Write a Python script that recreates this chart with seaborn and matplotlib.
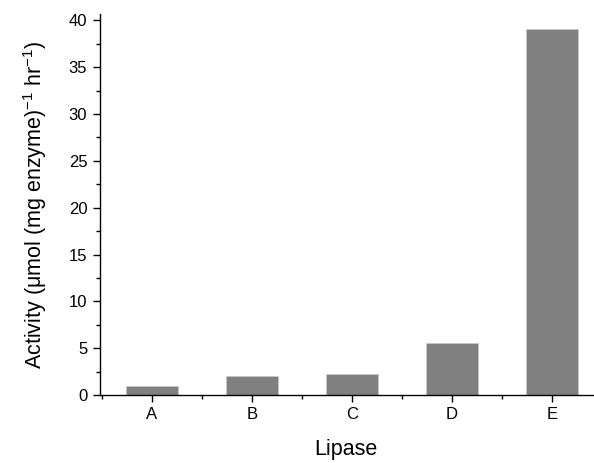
import pandas as pd
import matplotlib.pyplot as plt
import seaborn as sns
from matplotlib.ticker import MultipleLocator, FixedLocator

lipase = ['A', 'B', 'C', 'D', 'E']
activity = [0.96, 1.99, 2.23, 5.55, 39.1]

df = pd.DataFrame({'Lipase': lipase, 'Activity': activity})

sns.set_style('ticks')
plt.rcParams['font.family'] = ['Liberation Sans', 'DejaVu Sans']
plt.rcParams['mathtext.fontset'] = 'custom'
plt.rcParams['mathtext.rm'] = 'Liberation Sans'
plt.rcParams['mathtext.default'] = 'regular'
plt.rcParams['text.color'] = 'black'
plt.rcParams['axes.labelcolor'] = 'black'
plt.rcParams['xtick.color'] = 'black'
plt.rcParams['ytick.color'] = 'black'

fig = plt.figure(figsize=(5.94, 4.63), dpi=100)
ax = fig.add_axes([0.168, 0.147, 0.83, 0.823])

sns.barplot(data=df, x='Lipase', y='Activity', color='#808080', saturation=1,
            width=0.52, edgecolor='#c8c8c8', linewidth=0.4, ax=ax)

ax.set_xlim(-0.52, 4.41)
ax.set_ylim(0, 40.7)
ax.yaxis.set_major_locator(MultipleLocator(5))
ax.yaxis.set_minor_locator(MultipleLocator(2.5))
ax.xaxis.set_minor_locator(FixedLocator([-0.5, 0.5, 1.5, 2.5, 3.5]))
ax.tick_params(which='major', length=5, width=1, labelsize=12, pad=4)
ax.tick_params(which='minor', length=3, width=1)
sns.despine(ax=ax)
for s in ['left', 'bottom']:
    ax.spines[s].set_linewidth(1)
    ax.spines[s].set_color('black')

ax.set_xlabel('Lipase', fontsize=15.5, labelpad=12)
ax.set_ylabel('Activity (μmol (mg enzyme)$^{-1}$ hr$^{-1}$)', fontsize=15.5, labelpad=14)

fig.savefig('out.png', dpi=100)
